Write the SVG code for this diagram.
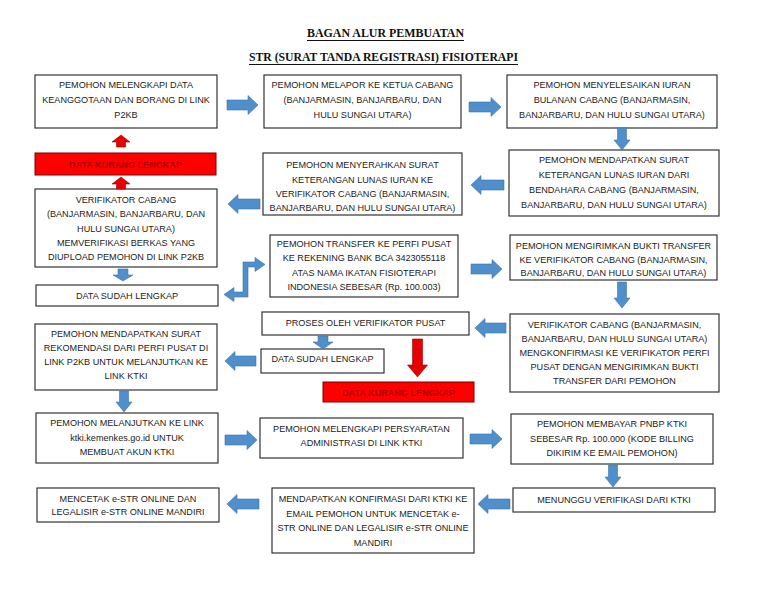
<svg xmlns="http://www.w3.org/2000/svg" width="768" height="594" viewBox="0 0 768 594">
<style>
.bg{fill:#fff}
.box{fill:#fff;stroke:#333;stroke-width:1.2}
.red{fill:#ff0000;stroke:#7a0000;stroke-width:1}
.t{font-family:"Liberation Sans",Arial,sans-serif;font-size:9.1px;fill:#222;text-anchor:middle}
.rt{fill:#b00000;font-weight:bold}
.ttl{font-family:"Liberation Serif","Times New Roman",serif;font-size:13.5px;font-weight:bold;fill:#111}
.ul{stroke:#111;stroke-width:1}
.ba{fill:#4f8fcc;stroke:#3f74aa;stroke-width:0.6}
.ra{fill:#e60000;stroke:#990000;stroke-width:0.6}
</style>
<rect class="bg" x="0" y="0" width="768" height="594"/>
<g id="title">
<text class="ttl" x="307" y="37" textLength="157" lengthAdjust="spacingAndGlyphs">BAGAN ALUR PEMBUATAN</text>
<line class="ul" x1="307" y1="40.5" x2="464" y2="40.5"/>
<text class="ttl" x="249" y="61" textLength="269" lengthAdjust="spacingAndGlyphs">STR (SURAT TANDA REGISTRASI) FISIOTERAPI</text>
<line class="ul" x1="249" y1="64.5" x2="518" y2="64.5"/>
</g>
<g id="a1"><rect class="box" x="35" y="75" width="182" height="53"/>
<text class="t" x="126" y="88">PEMOHON MELENGKAPI DATA</text>
<text class="t" x="126" y="103">KEANGGOTAAN DAN BORANG DI LINK</text>
<text class="t" x="126" y="117.5">P2KB</text></g>
<g id="a2"><rect class="box" x="264" y="75" width="197" height="53"/>
<text class="t" x="362.5" y="88">PEMOHON MELAPOR KE KETUA CABANG</text>
<text class="t" x="362.5" y="103">(BANJARMASIN, BANJARBARU, DAN</text>
<text class="t" x="362.5" y="117.5">HULU SUNGAI UTARA)</text></g>
<g id="a3"><rect class="box" x="507" y="75" width="210" height="53"/>
<text class="t" x="612" y="88">PEMOHON MENYELESAIKAN IURAN</text>
<text class="t" x="612" y="103">BULANAN CABANG (BANJARMASIN,</text>
<text class="t" x="612" y="117.5">BANJARBARU, DAN HULU SUNGAI UTARA)</text></g>
<g id="b3"><rect class="box" x="509" y="150" width="210" height="66"/>
<text class="t" x="614" y="163">PEMOHON MENDAPATKAN SURAT</text>
<text class="t" x="614" y="178">KETERANGAN LUNAS IURAN DARI</text>
<text class="t" x="614" y="193">BENDAHARA CABANG (BANJARMASIN,</text>
<text class="t" x="614" y="208">BANJARBARU, DAN HULU SUNGAI UTARA)</text></g>
<g id="b2"><rect class="box" x="263" y="153" width="199" height="62"/>
<text class="t" x="362.5" y="168">PEMOHON MENYERAHKAN SURAT</text>
<text class="t" x="362.5" y="183">KETERANGAN LUNAS IURAN KE</text>
<text class="t" x="362.5" y="197">VERIFIKATOR CABANG (BANJARMASIN,</text>
<text class="t" x="362.5" y="211">BANJARBARU, DAN HULU SUNGAI UTARA)</text></g>
<g id="red1"><rect class="red" x="35" y="153" width="181" height="22"/>
<text class="t rt" x="125.5" y="167.5">DATA KURANG LENGKAP</text></g>
<g id="b1"><rect class="box" x="35" y="189" width="182" height="78"/>
<text class="t" x="126" y="203">VERIFIKATOR CABANG</text>
<text class="t" x="126" y="217">(BANJARMASIN, BANJARBARU, DAN</text>
<text class="t" x="126" y="231.5">HULU SUNGAI UTARA)</text>
<text class="t" x="126" y="246">MEMVERIFIKASI BERKAS YANG</text>
<text class="t" x="126" y="260">DIUPLOAD PEMOHON DI LINK P2KB</text></g>
<g id="c1"><rect class="box" x="36" y="285" width="182" height="21"/>
<text class="t" x="127" y="299">DATA SUDAH LENGKAP</text></g>
<g id="c2"><rect class="box" x="270" y="235" width="188" height="62"/>
<text class="t" x="364" y="247">PEMOHON TRANSFER KE PERFI PUSAT</text>
<text class="t" x="364" y="261">KE REKENING BANK BCA 3423055118</text>
<text class="t" x="364" y="276">ATAS NAMA IKATAN FISIOTERAPI</text>
<text class="t" x="364" y="290">INDONESIA SEBESAR (Rp. 100.003)</text></g>
<g id="c3"><rect class="box" x="510" y="235" width="207" height="45"/>
<text class="t" x="613.5" y="249">PEMOHON MENGIRIMKAN BUKTI TRANSFER</text>
<text class="t" x="613.5" y="262.5">KE VERIFIKATOR CABANG (BANJARMASIN,</text>
<text class="t" x="613.5" y="276">BANJARBARU, DAN HULU SUNGAI UTARA)</text></g>
<g id="d3"><rect class="box" x="510" y="314" width="209" height="78"/>
<text class="t" x="614.5" y="328">VERIFIKATOR CABANG (BANJARMASIN,</text>
<text class="t" x="614.5" y="341.5">BANJARBARU, DAN HULU SUNGAI UTARA)</text>
<text class="t" x="614.5" y="355.5">MENGKONFIRMASI KE VERIFIKATOR PERFI</text>
<text class="t" x="614.5" y="369.5">PUSAT DENGAN MENGIRIMKAN BUKTI</text>
<text class="t" x="614.5" y="383.5">TRANSFER DARI PEMOHON</text></g>
<g id="d2"><rect class="box" x="262" y="312" width="207" height="23"/>
<text class="t" x="365.5" y="326">PROSES OLEH VERIFIKATOR PUSAT</text></g>
<g id="e2s"><rect class="box" x="261" y="349" width="123" height="24"/>
<text class="t" x="322.5" y="362">DATA SUDAH LENGKAP</text></g>
<g id="red2"><rect class="red" x="323" y="382" width="151" height="20"/>
<text class="t rt" x="398.5" y="395.5">DATA KURANG LENGKAP</text></g>
<g id="d1"><rect class="box" x="35" y="324" width="182" height="66"/>
<text class="t" x="126" y="337">PEMOHON MENDAPATKAN SURAT</text>
<text class="t" x="126" y="351">REKOMENDASI DARI PERFI PUSAT DI</text>
<text class="t" x="126" y="365">LINK P2KB UNTUK MELANJUTKAN KE</text>
<text class="t" x="126" y="379">LINK KTKI</text></g>
<g id="e1"><rect class="box" x="36" y="413" width="182" height="50"/>
<text class="t" x="127" y="426">PEMOHON MELANJUTKAN KE LINK</text>
<text class="t" x="127" y="441">ktki.kemenkes.go.id UNTUK</text>
<text class="t" x="127" y="455">MEMBUAT AKUN KTKI</text></g>
<g id="e2"><rect class="box" x="260" y="418" width="203" height="40"/>
<text class="t" x="361.5" y="432">PEMOHON MELENGKAPI PERSYARATAN</text>
<text class="t" x="361.5" y="445.5">ADMINISTRASI DI LINK KTKI</text></g>
<g id="e3"><rect class="box" x="511" y="414" width="202" height="50"/>
<text class="t" x="612" y="427">PEMOHON MEMBAYAR PNBP KTKI</text>
<text class="t" x="612" y="441.5">SEBESAR Rp. 100.000 (KODE BILLING</text>
<text class="t" x="612" y="456">DIKIRIM KE EMAIL PEMOHON)</text></g>
<g id="f3"><rect class="box" x="513" y="488" width="202" height="24"/>
<text class="t" x="614" y="503">MENUNGGU VERIFIKASI DARI KTKI</text></g>
<g id="f2"><rect class="box" x="272" y="488" width="202" height="65"/>
<text class="t" x="373" y="502">MENDAPATKAN KONFIRMASI DARI KTKI KE</text>
<text class="t" x="373" y="517">EMAIL PEMOHON UNTUK MENCETAK e-</text>
<text class="t" x="373" y="531">STR ONLINE DAN LEGALISIR e-STR ONLINE</text>
<text class="t" x="373" y="546">MANDIRI</text></g>
<g id="f1"><rect class="box" x="37" y="488" width="182" height="34"/>
<text class="t" x="128" y="502">MENCETAK e-STR ONLINE DAN</text>
<text class="t" x="128" y="515">LEGALISIR e-STR ONLINE MANDIRI</text></g>
<g id="connectors">
<path class="ba" d="M227,100 H248 V95.5 L258,105 L248,114.5 V110 H227 Z"/>
<path class="ba" d="M469,102 H491 V97.5 L501,107 L491,116.5 V112 H469 Z"/>
<path class="ba" d="M471,264 H492 V259.5 L502,269 L492,278.5 V274 H471 Z"/>
<path class="ba" d="M225,435 H247 V430.5 L257,440 L247,449.5 V445 H225 Z"/>
<path class="ba" d="M470,434 H492 V429.5 L502,439 L492,448.5 V444 H470 Z"/>
<path class="ba" d="M504,180 H481 V175.5 L471,185 L481,194.5 V190 H504 Z"/>
<path class="ba" d="M260,199 H238 V194.5 L228,204 L238,213.5 V209 H260 Z"/>
<path class="ba" d="M506,323 H485 V318.5 L475,328 L485,337.5 V333 H506 Z"/>
<path class="ba" d="M256,356 H235 V351.5 L225,361 L235,370.5 V366 H256 Z"/>
<path class="ba" d="M510,499 H488 V494.5 L478,504 L488,513.5 V509 H510 Z"/>
<path class="ba" d="M259,499 H237 V494.5 L227,504 L237,513.5 V509 H259 Z"/>
<path class="ba" d="M617.5,128 V140 H614 L622,150 L630,140 H626.5 V128 Z"/>
<path class="ba" d="M617.5,282 V298 H614 L622,308 L630,298 H626.5 V282 Z"/>
<path class="ba" d="M119.5,391 V402 H116 L124,412 L132,402 H128.5 V391 Z"/>
<path class="ba" d="M608.5,465 V477 H605 L613,487 L621,477 H617.5 V465 Z"/>
<path class="ba" d="M118,269 V275 H113 L123,281 L133,275 H128 V269 Z"/>
<path class="ba" d="M318,336 V342 H313 L323,349 L333,342 H328 V336 Z"/>
<path class="ba" d="M224,294.5 L234,287.5 V292 H243 V262 H255 V257.5 L265,264.5 L255,271.5 V267 H248 V297 H234 V301.5 Z"/>
<path class="ra" d="M121,135 L130,142 H125.5 V147 H116.5 V142 H112 Z"/>
<path class="ra" d="M121,177 L130,184 H125.5 V189 H116.5 V184 H112 Z"/>
<path class="ra" d="M412.5,339 V365 H407.5 L417.5,377 L427.5,365 H422.5 V339 Z"/>
</g>
</svg>
